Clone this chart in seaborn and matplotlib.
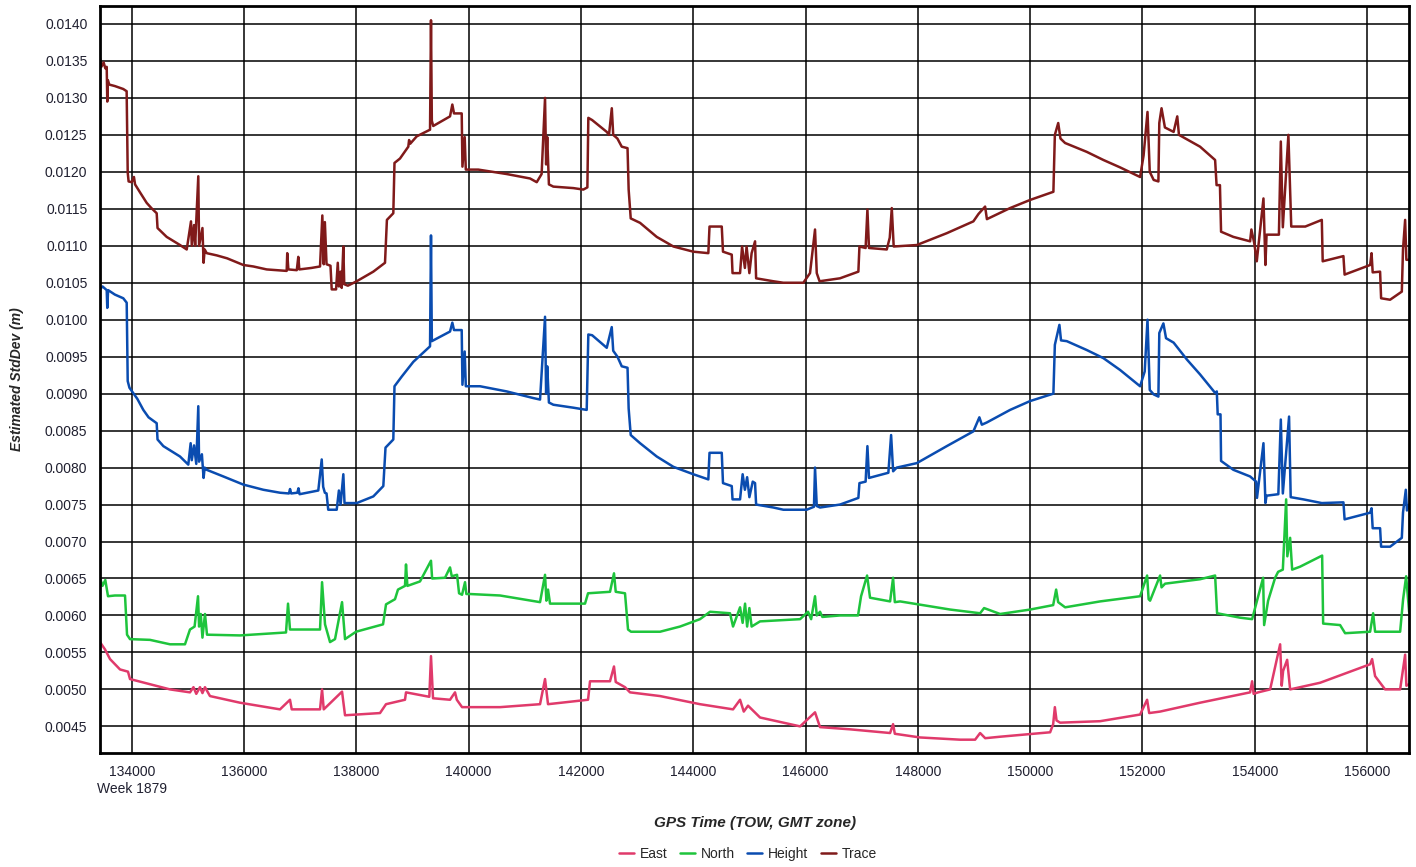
# estimated std dev of the GPS solution over one session

import matplotlib
matplotlib.use("Agg")
import matplotlib.pyplot as plt
import pandas as pd
import seaborn as sns


# --- data (time of week in s, std dev in m) ---
trace_time = [133435, 133460, 133500, 133530, 133555, 133565, 133575, 133600, 133700, 133850,
              133910, 133929, 133945, 134000, 134040, 134060, 134150, 134267, 134350, 134445,
              134460, 134623, 134860, 134980, 135056, 135070, 135110, 135130, 135186, 135200,
              135260, 135280, 135300, 135336, 135514, 135700, 135988, 136166, 136404, 136760,
              136770, 136790, 136940, 136967, 136985, 137200, 137354, 137395, 137420, 137440,
              137470, 137540, 137562, 137640, 137670, 137690, 137720, 137740, 137769, 137785,
              137850, 138007, 138303, 138511, 138530, 138545, 138659, 138680, 138778, 138926,
              138940, 138960, 139076, 139313, 139330, 139345, 139370, 139669, 139710, 139740,
              139877, 139890, 139930, 139950, 140173, 140679, 141094, 141213, 141300, 141361,
              141380, 141400, 141430, 141509, 141865, 142043, 142115, 142132, 142200, 142460,
              142500, 142550, 142575, 142650, 142727, 142830, 142850, 142887, 143053, 143350,
              143647, 144002, 144269, 144290, 144508, 144530, 144686, 144700, 144834, 144870,
              144920, 144950, 145000, 145040, 145101, 145120, 145427, 145605, 145961, 146080,
              146169, 146200, 146250, 146614, 146941, 146960, 147070, 147102, 147130, 147447,
              147500, 147536, 147570, 147981, 148515, 148989, 149080, 149198, 149230, 149643,
              150000, 150414, 150440, 150500, 150540, 150622, 151008, 151305, 151602, 151958,
              152020, 152090, 152130, 152200, 152284, 152300, 152340, 152400, 152555, 152620,
              152650, 153026, 153294, 153320, 153380, 153400, 153619, 153917, 153940, 153990,
              154036, 154155, 154190, 154210, 154430, 154464, 154500, 154599, 154650, 154900,
              155194, 155210, 155579, 155600, 156055, 156080, 156100, 156232, 156250, 156410,
              156619, 156640, 156678, 156700, 156750]
trace_std = [0.01354, 0.01342, 0.01348, 0.01340, 0.01342, 0.01295, 0.01324, 0.01318, 0.01316, 0.01312,
             0.01309, 0.01199, 0.01187, 0.01186, 0.01193, 0.01183, 0.01172, 0.01158, 0.01151, 0.01144,
             0.01124, 0.01112, 0.01101, 0.01095, 0.01133, 0.01100, 0.01128, 0.01100, 0.01194, 0.01100,
             0.01124, 0.01077, 0.01095, 0.01090, 0.01087, 0.01083, 0.01074, 0.01072, 0.01068, 0.01066,
             0.01090, 0.01068, 0.01067, 0.01085, 0.01068, 0.01070, 0.01072, 0.01141, 0.01075, 0.01132,
             0.01075, 0.01073, 0.01041, 0.01041, 0.01077, 0.01045, 0.01065, 0.01043, 0.01099, 0.01048,
             0.01046, 0.01052, 0.01065, 0.01077, 0.01111, 0.01135, 0.01144, 0.01212, 0.01218, 0.01234,
             0.01243, 0.01238, 0.01248, 0.01257, 0.01405, 0.01269, 0.01262, 0.01275, 0.01291, 0.01279,
             0.01279, 0.01207, 0.01247, 0.01203, 0.01203, 0.01197, 0.01191, 0.01186, 0.01197, 0.01300,
             0.01210, 0.01247, 0.01183, 0.01180, 0.01178, 0.01176, 0.01179, 0.01273, 0.01270, 0.01254,
             0.01250, 0.01286, 0.01250, 0.01245, 0.01234, 0.01232, 0.01176, 0.01137, 0.01131, 0.01112,
             0.01099, 0.01092, 0.01090, 0.01126, 0.01126, 0.01092, 0.01088, 0.01063, 0.01063, 0.01099,
             0.01070, 0.01099, 0.01063, 0.01090, 0.01106, 0.01056, 0.01052, 0.01050, 0.01050, 0.01063,
             0.01122, 0.01063, 0.01052, 0.01056, 0.01065, 0.01099, 0.01097, 0.01149, 0.01097, 0.01095,
             0.01111, 0.01151, 0.01099, 0.01101, 0.01117, 0.01133, 0.01143, 0.01153, 0.01136, 0.01151,
             0.01162, 0.01173, 0.01250, 0.01266, 0.01245, 0.01239, 0.01227, 0.01216, 0.01206, 0.01193,
             0.01222, 0.01281, 0.01200, 0.01189, 0.01187, 0.01266, 0.01286, 0.01260, 0.01254, 0.01275,
             0.01250, 0.01234, 0.01216, 0.01182, 0.01182, 0.01119, 0.01112, 0.01106, 0.01122, 0.01104,
             0.01079, 0.01164, 0.01074, 0.01115, 0.01115, 0.01241, 0.01125, 0.01250, 0.01126, 0.01126,
             0.01135, 0.01079, 0.01086, 0.01061, 0.01074, 0.01090, 0.01064, 0.01065, 0.01029, 0.01027,
             0.01038, 0.01095, 0.01135, 0.01081, 0.01081]

height_time = [133435, 133480, 133555, 133565, 133580, 133700, 133850, 133911, 133929, 133960,
               134100, 134207, 134300, 134445, 134460, 134564, 134860, 135008, 135050, 135070,
               135110, 135150, 135186, 135200, 135250, 135280, 135300, 135336, 135632, 135988,
               136344, 136641, 136800, 136820, 136840, 136950, 136970, 136990, 137323, 137384,
               137410, 137440, 137470, 137500, 137651, 137690, 137720, 137769, 137790, 138007,
               138303, 138481, 138520, 138659, 138680, 138808, 139015, 139313, 139330, 139345,
               139669, 139710, 139740, 139877, 139890, 139930, 139950, 140203, 140679, 141153,
               141272, 141361, 141380, 141400, 141430, 141509, 141865, 142103, 142132, 142200,
               142460, 142549, 142575, 142650, 142727, 142830, 142850, 142887, 143053, 143350,
               143647, 144002, 144269, 144290, 144508, 144530, 144686, 144700, 144834, 144880,
               144920, 144960, 145000, 145060, 145101, 145120, 145427, 145605, 146021, 146150,
               146169, 146200, 146258, 146614, 146941, 146960, 147070, 147102, 147130, 147475,
               147524, 147560, 147624, 147981, 148515, 148989, 149096, 149140, 149228, 149643,
               150000, 150414, 150440, 150521, 150550, 150652, 151008, 151305, 151602, 151958,
               152040, 152090, 152130, 152200, 152284, 152300, 152373, 152420, 152555, 152793,
               153026, 153294, 153324, 153340, 153390, 153400, 153619, 153917, 154024, 154040,
               154155, 154190, 154210, 154420, 154464, 154500, 154611, 154640, 154866, 155194,
               155579, 155600, 156055, 156080, 156100, 156232, 156250, 156410, 156619, 156640,
               156690, 156710, 156750]
height_std = [0.01041, 0.01045, 0.01040, 0.01016, 0.01040, 0.01034, 0.01029, 0.01023, 0.00917, 0.00908,
              0.00893, 0.00878, 0.00868, 0.00860, 0.00838, 0.00829, 0.00815, 0.00804, 0.00833, 0.00810,
              0.00830, 0.00805, 0.00883, 0.00808, 0.00818, 0.00786, 0.00800, 0.00797, 0.00788, 0.00777,
              0.00770, 0.00766, 0.00765, 0.00771, 0.00765, 0.00766, 0.00772, 0.00764, 0.00769, 0.00811,
              0.00774, 0.00766, 0.00765, 0.00743, 0.00743, 0.00769, 0.00750, 0.00791, 0.00752, 0.00752,
              0.00761, 0.00775, 0.00827, 0.00838, 0.00910, 0.00923, 0.00943, 0.00964, 0.01114, 0.00971,
              0.00984, 0.00996, 0.00986, 0.00986, 0.00912, 0.00957, 0.00910, 0.00910, 0.00903, 0.00894,
              0.00892, 0.01004, 0.00900, 0.00937, 0.00888, 0.00885, 0.00881, 0.00878, 0.00980, 0.00979,
              0.00962, 0.00990, 0.00958, 0.00950, 0.00937, 0.00935, 0.00880, 0.00844, 0.00833, 0.00815,
              0.00801, 0.00791, 0.00784, 0.00820, 0.00820, 0.00779, 0.00775, 0.00757, 0.00757, 0.00791,
              0.00770, 0.00787, 0.00760, 0.00781, 0.00779, 0.00750, 0.00746, 0.00743, 0.00743, 0.00747,
              0.00800, 0.00748, 0.00746, 0.00750, 0.00759, 0.00779, 0.00781, 0.00829, 0.00786, 0.00793,
              0.00844, 0.00795, 0.00800, 0.00806, 0.00829, 0.00849, 0.00868, 0.00858, 0.00861, 0.00878,
              0.00890, 0.00900, 0.00966, 0.00993, 0.00972, 0.00971, 0.00959, 0.00948, 0.00932, 0.00910,
              0.00930, 0.01000, 0.00905, 0.00899, 0.00896, 0.00982, 0.00995, 0.00975, 0.00969, 0.00946,
              0.00926, 0.00901, 0.00903, 0.00872, 0.00872, 0.00809, 0.00797, 0.00788, 0.00781, 0.00759,
              0.00833, 0.00752, 0.00762, 0.00764, 0.00865, 0.00765, 0.00869, 0.00760, 0.00757, 0.00752,
              0.00753, 0.00730, 0.00739, 0.00745, 0.00718, 0.00718, 0.00693, 0.00693, 0.00705, 0.00739,
              0.00770, 0.00742, 0.00750]

north_time = [133435, 133480, 133530, 133578, 133700, 133881, 133917, 133970, 134326, 134682,
              134949, 135038, 135120, 135181, 135200, 135230, 135260, 135305, 135341, 135929,
              136748, 136784, 136819, 137354, 137390, 137443, 137532, 137621, 137746, 137799,
              137995, 138476, 138529, 138689, 138742, 138867, 138885, 138910, 139134, 139330,
              139350, 139580, 139669, 139700, 139794, 139830, 139883, 139936, 139960, 140025,
              140560, 141272, 141361, 141385, 141414, 141450, 142073, 142127, 142518, 142589,
              142620, 142785, 142839, 142892, 143409, 143765, 144121, 144299, 144655, 144709,
              144834, 144880, 144923, 144960, 145000, 145040, 145190, 145903, 146045, 146100,
              146169, 146200, 146258, 146300, 146614, 146935, 146989, 147096, 147149, 147506,
              147559, 147590, 147684, 148575, 149109, 149180, 149465, 150000, 150410, 150463,
              150499, 150623, 151246, 151958, 152083, 152110, 152136, 152314, 152340, 152403,
              153026, 153294, 153329, 153739, 153953, 154149, 154167, 154238, 154363, 154416,
              154500, 154559, 154580, 154630, 154666, 154808, 155200, 155218, 155520, 155609,
              156054, 156108, 156143, 156589, 156642, 156696, 156749]
north_std = [0.00651, 0.00640, 0.00648, 0.00626, 0.00627, 0.00627, 0.00574, 0.00568, 0.00567, 0.00561,
             0.00561, 0.00581, 0.00585, 0.00626, 0.00585, 0.00602, 0.00570, 0.00602, 0.00574, 0.00573,
             0.00577, 0.00616, 0.00581, 0.00581, 0.00645, 0.00588, 0.00564, 0.00568, 0.00618, 0.00568,
             0.00578, 0.00588, 0.00615, 0.00622, 0.00635, 0.00640, 0.00669, 0.00640, 0.00646, 0.00674,
             0.00650, 0.00651, 0.00665, 0.00653, 0.00655, 0.00630, 0.00628, 0.00645, 0.00629, 0.00629,
             0.00627, 0.00618, 0.00655, 0.00620, 0.00635, 0.00616, 0.00616, 0.00630, 0.00632, 0.00657,
             0.00632, 0.00630, 0.00581, 0.00578, 0.00578, 0.00585, 0.00595, 0.00605, 0.00603, 0.00585,
             0.00611, 0.00590, 0.00616, 0.00585, 0.00610, 0.00585, 0.00592, 0.00595, 0.00605, 0.00595,
             0.00626, 0.00600, 0.00605, 0.00598, 0.00600, 0.00600, 0.00626, 0.00654, 0.00624, 0.00619,
             0.00651, 0.00618, 0.00619, 0.00608, 0.00603, 0.00610, 0.00602, 0.00608, 0.00614, 0.00635,
             0.00618, 0.00611, 0.00619, 0.00626, 0.00654, 0.00622, 0.00620, 0.00654, 0.00638, 0.00643,
             0.00649, 0.00654, 0.00603, 0.00597, 0.00595, 0.00651, 0.00587, 0.00620, 0.00651, 0.00659,
             0.00662, 0.00757, 0.00680, 0.00705, 0.00662, 0.00666, 0.00681, 0.00589, 0.00587, 0.00576,
             0.00578, 0.00603, 0.00578, 0.00578, 0.00622, 0.00653, 0.00605]

east_time = [133435, 133525, 133614, 133792, 133934, 133970, 134326, 134682, 135038, 135100,
             135150, 135216, 135260, 135305, 135394, 135929, 136641, 136819, 136850, 137354,
             137390, 137420, 137746, 137799, 138422, 138529, 138867, 138885, 139300, 139330,
             139366, 139669, 139758, 139790, 139883, 140560, 141272, 141361, 141414, 142127,
             142162, 142518, 142589, 142620, 142785, 142874, 143409, 144121, 144709, 144834,
             144900, 144976, 145190, 145903, 146169, 146258, 146793, 147506, 147559, 147590,
             148040, 148753, 149020, 149109, 149200, 149465, 150356, 150410, 150440, 150470,
             150534, 151246, 151958, 152083, 152120, 152314, 153026, 153917, 153953, 153980,
             154060, 154274, 154452, 154480, 154505, 154577, 154630, 155164, 156054, 156090,
             156143, 156321, 156589, 156678, 156700, 156749]
east_std = [0.00564, 0.00554, 0.00541, 0.00527, 0.00524, 0.00514, 0.00507, 0.00500, 0.00496, 0.00503,
            0.00494, 0.00503, 0.00495, 0.00503, 0.00491, 0.00482, 0.00473, 0.00486, 0.00473, 0.00473,
            0.00500, 0.00473, 0.00497, 0.00465, 0.00468, 0.00480, 0.00486, 0.00496, 0.00490, 0.00545,
            0.00488, 0.00486, 0.00496, 0.00486, 0.00476, 0.00476, 0.00480, 0.00514, 0.00480, 0.00486,
            0.00511, 0.00511, 0.00531, 0.00510, 0.00503, 0.00496, 0.00491, 0.00480, 0.00473, 0.00486,
            0.00470, 0.00478, 0.00462, 0.00450, 0.00469, 0.00449, 0.00446, 0.00441, 0.00453, 0.00440,
            0.00435, 0.00432, 0.00432, 0.00441, 0.00434, 0.00436, 0.00442, 0.00453, 0.00476, 0.00458,
            0.00455, 0.00457, 0.00466, 0.00486, 0.00468, 0.00470, 0.00482, 0.00496, 0.00511, 0.00494,
            0.00496, 0.00500, 0.00561, 0.00505, 0.00525, 0.00540, 0.00500, 0.00509, 0.00534, 0.00541,
            0.00518, 0.00500, 0.00500, 0.00547, 0.00505, 0.00507]

series_names = ["East", "North", "Height", "Trace"]
series_colors = ["#e03a6b", "#1ec43c", "#0a4cb0", "#801a1a"]
x_ticks = list(range(134000, 156001, 2000))
y_ticks = [0.0045 + 0.0005 * i for i in range(20)]


def build_frame():
    _parts = []
    for _name, _t, _v in [("East", east_time, east_std), ("North", north_time, north_std),
                          ("Height", height_time, height_std), ("Trace", trace_time, trace_std)]:
        _parts.append(pd.DataFrame({"time": _t, "std": _v, "series": _name}))
    return pd.concat(_parts, ignore_index=True)


sns.set_style("white")
plt.rcParams["font.family"] = ["Liberation Sans", "DejaVu Sans"]

df = build_frame()

fig = plt.figure(figsize=(14.16, 8.67), dpi=100)
ax = fig.add_axes([0.0706, 0.1315, 0.9247, 0.8616])

sns.lineplot(data=df, x="time", y="std", hue="series", hue_order=series_names,
             palette=dict(zip(series_names, series_colors)), sort=False, estimator=None,
             linewidth=1.8, ax=ax)

ax.set_xlim(133435, 156753)
ax.set_ylim(0.00414, 0.014243)

ax.set_xticks(x_ticks, [f"{t}\nWeek 1879" if t == 134000 else str(t) for t in x_ticks])
ax.set_yticks(y_ticks, [f"{v:.4f}" for v in y_ticks])
ax.tick_params(axis="both", labelsize=10, labelcolor="#202030", length=4, width=1.2,
               color="black", direction="out", pad=5)
ax.grid(True, color="black", linewidth=1.1)
ax.set_axisbelow(True)
for _s in ax.spines.values():
    _s.set_color("black")
    _s.set_linewidth(2.0)

ax.set_xlabel("GPS Time (TOW, GMT zone)", fontsize=11, fontweight="bold", fontstyle="italic")
ax.xaxis.set_label_coords(0.5, -0.084)
ax.set_ylabel("Estimated StdDev (m)", fontsize=10, fontweight="bold", fontstyle="italic")
ax.yaxis.set_label_coords(-0.058, 0.5)

handles, labels = ax.get_legend_handles_labels()
ax.get_legend().remove()
fig.legend(handles, labels, loc="center", bbox_to_anchor=(0.528, 0.015), ncol=4,
           frameon=False, fontsize=10, handlelength=1.1, handletextpad=0.4, columnspacing=0.9)

plt.savefig("out.png", dpi=100)
plt.close()
